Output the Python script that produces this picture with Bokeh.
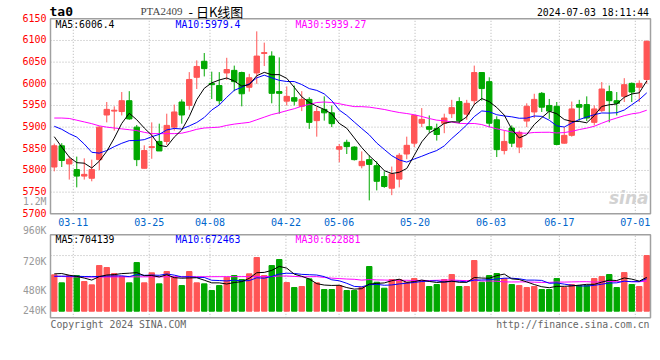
from bokeh.plotting import figure
from bokeh.models import Range1d, Label, ColumnDataSource
from bokeh.core.properties import value
from bokeh.embed import file_html
from bokeh.resources import INLINE

# ---------------- data ----------------
dates = ["03-06", "03-07", "03-08", "03-11", "03-12", "03-13", "03-14", "03-15", "03-18", "03-19",
         "03-20", "03-21", "03-22", "03-25", "03-26", "03-27", "03-28", "03-29", "04-01", "04-02",
         "04-03", "04-08", "04-09", "04-10", "04-11", "04-12", "04-15", "04-16", "04-17", "04-18",
         "04-19", "04-22", "04-23", "04-24", "04-25", "04-26", "04-29", "04-30", "05-06", "05-07",
         "05-08", "05-09", "05-10", "05-13", "05-14", "05-15", "05-16", "05-17", "05-20", "05-21",
         "05-22", "05-23", "05-24", "05-27", "05-28", "05-29", "05-30", "05-31", "06-03", "06-04",
         "06-05", "06-06", "06-07", "06-11", "06-12", "06-13", "06-14", "06-17", "06-18", "06-19",
         "06-20", "06-21", "06-24", "06-25", "06-26", "06-27", "06-28", "07-01", "07-02", "07-03"]

opens = [5808, 5857, 5815, 5802, 5787, 5782, 5825, 5928, 5937, 5936,
         5961, 5900, 5805, 5853, 5867, 5867, 5900, 5958, 5950, 6015,
         6052, 6001, 5996, 6025, 6031, 6026, 5992, 6025, 6070, 6064,
         5982, 5960, 5968, 5948, 5964, 5915, 5941, 5933, 5849, 5865,
         5854, 5811, 5825, 5811, 5786, 5759, 5780, 5838, 5863, 5909,
         5901, 5897, 5909, 5931, 5959, 5930, 5961, 6026, 6005, 5917,
         5846, 5898, 5854, 5914, 5935, 5978, 5950, 5948, 5863, 5881,
         5952, 5952, 5911, 5938, 5982, 5961, 5971, 6001, 5992, 6010]

highs = [5862, 5863, 5832, 5832, 5828, 5825, 5902, 5958, 5948, 5981,
         5983, 5905, 5858, 5911, 5908, 5931, 5952, 5964, 6027, 6054,
         6071, 6028, 6027, 6060, 6042, 6028, 6023, 6121, 6095, 6075,
         6061, 5994, 5996, 5983, 5969, 5946, 5971, 5950, 5861, 5871,
         5856, 5844, 5835, 5821, 5798, 5809, 5840, 5878, 5928, 5944,
         5927, 5908, 5931, 5963, 5969, 5963, 6042, 6027, 6015, 5925,
         5892, 5904, 5892, 5955, 5977, 5981, 5965, 5958, 5900, 5959,
         5963, 5971, 5950, 6004, 5996, 5981, 6013, 6003, 6008, 6100]

lows = [5798, 5808, 5779, 5761, 5779, 5775, 5801, 5911, 5892, 5927,
        5917, 5810, 5805, 5827, 5845, 5859, 5892, 5908, 5940, 5988,
        6017, 5965, 5952, 6009, 5983, 5948, 5982, 6000, 6041, 5955,
        5931, 5950, 5950, 5937, 5896, 5878, 5915, 5900, 5819, 5838,
        5823, 5805, 5731, 5754, 5760, 5743, 5761, 5826, 5854, 5900,
        5887, 5869, 5886, 5921, 5908, 5917, 5951, 5961, 5900, 5831,
        5837, 5854, 5840, 5900, 5921, 5935, 5919, 5858, 5862, 5878,
        5915, 5914, 5904, 5935, 5911, 5927, 5958, 5958, 5958, 6000]

closes = [5857, 5823, 5826, 5787, 5791, 5802, 5900, 5941, 5939, 5961,
          5919, 5825, 5846, 5855, 5845, 5904, 5935, 5928, 6010, 6040,
          6035, 5998, 5961, 6033, 6005, 5977, 6014, 6064, 6072, 5978,
          5978, 5971, 5960, 5964, 5911, 5936, 5933, 5908, 5855, 5855,
          5825, 5821, 5814, 5775, 5763, 5792, 5835, 5858, 5927, 5918,
          5895, 5883, 5921, 5945, 5915, 5955, 6026, 5989, 5909, 5848,
          5867, 5863, 5888, 5948, 5964, 5946, 5937, 5860, 5881, 5942,
          5946, 5921, 5942, 5988, 5961, 5955, 5998, 5981, 6001, 6098]

volumes = [752000, 587000, 738000, 738000, 614000, 545000, 945000, 904000, 780000, 718000,
           587000, 1007000, 587000, 794000, 566000, 821000, 704000, 531000, 821000, 587000,
           566000, 428000, 531000, 704000, 738000, 656000, 773000, 1111000, 738000, 945000,
           1070000, 593000, 490000, 511000, 669000, 587000, 449000, 449000, 531000, 428000,
           428000, 497000, 925000, 600000, 476000, 656000, 656000, 600000, 676000, 635000,
           511000, 552000, 656000, 759000, 511000, 511000, 1049000, 600000, 738000, 780000,
           676000, 552000, 531000, 490000, 511000, 449000, 449000, 676000, 490000, 552000,
           531000, 531000, 676000, 718000, 759000, 490000, 800000, 552000, 511000, 1152000]

ma5_lead = [5878, 5854, 5831, 5818]
ma10_lead = [5902, 5895, 5885, 5877, 5861, 5842, 5840, 5846, 5855]
ma30_lead = [5921, 5921, 5920, 5916, 5912, 5908, 5903, 5900, 5898, 5896,
             5894, 5892, 5888, 5885, 5885, 5885, 5885, 5886, 5890, 5895,
             5898, 5899, 5900, 5904, 5907, 5909, 5911, 5917, 5923]
vma5_lead = [773000, 780000, 745000, 720000]
vma10_lead = [722000, 725000, 725000, 722000, 718000, 715000, 720000, 728000, 730000]
vma30_lead = [724000, 718000, 712000, 710000, 709000, 708000, 708000, 708000, 709000, 710000,
              710000, 711000, 711000, 712000, 712000, 712000, 713000, 713000, 713000, 714000,
              714000, 714000, 715000, 715000, 715000, 716000, 716000, 716000, 717000]

date_labels = ["03-11", "03-25", "04-08", "04-22", "05-06", "05-20", "06-03", "06-17", "07-01"]
price_ticks = [5700, 5750, 5800, 5850, 5900, 5950, 6000, 6050, 6100, 6150]
vol_labels = ["1.2M", "960K", "720K", "480K", "240K"]

title_code = "ta0"
title_name = "PTA2409"
title_rest = "- 日K线图"
timestamp = "2024-07-03 18:11:44"
price_ma_text = ["MA5:6006.4", "MA10:5979.4", "MA30:5939.27"]
vol_ma_text = ["MA5:704139", "MA10:672463", "MA30:622881"]
copyright_text = "Copyright 2024 SINA.COM"
url_text = "http://finance.sina.com.cn"

# ---------------- layout constants (pixels) ----------------
W, H = 660, 360
PANEL_L, PANEL_R = 50, 650          # both panels, left/right edges
PRICE_TOP, PRICE_BOT = 18.3, 213.3  # price panel edges
VOL_TOP, VOL_BOT = 234.3, 317.3     # volume panel edges
VOL_BASE = 310.7                    # zero-volume line
VOL_PER_PX = 20700.0

MONO = "DejaVu Sans Mono"
GRID = "#b4b4b4"
FRAME = "#a0a0a0"
RED = "#ff5555"
GREEN = "#00a800"

# ---------------- derived ----------------
def moving_average(vals, n, lead):
    out = list(lead)
    for i in range(len(lead), len(vals)):
        out.append(sum(vals[i - n + 1:i + 1]) / n)
    return out

N = len(dates)
slot = (PANEL_R - PANEL_L) / N
x_lo = -0.5 - PANEL_L / slot
x_hi = N - 0.5 + (W - PANEL_R) / slot
p_per_px = (price_ticks[-1] - price_ticks[0]) / (PRICE_BOT - PRICE_TOP)
y_hi = price_ticks[-1] + PRICE_TOP * p_per_px
y_lo = price_ticks[0] - (H - PRICE_BOT) * p_per_px
v_hi = VOL_BASE * VOL_PER_PX
v_lo = -(H - VOL_BASE) * VOL_PER_PX
vbox_top = (VOL_BASE - VOL_TOP) * VOL_PER_PX
vbox_bot = -(VOL_BOT - VOL_BASE) * VOL_PER_PX

xs = list(range(N))
colors = [RED if c >= o else GREEN for o, c in zip(opens, closes)]

src = ColumnDataSource(dict(
    x=xs, high=highs, low=lows,
    top=[max(o, c) for o, c in zip(opens, closes)],
    bottom=[min(o, c) for o, c in zip(opens, closes)],
    color=colors, vol=volumes,
    ma5=moving_average(closes, 5, ma5_lead),
    ma10=moving_average(closes, 10, ma10_lead),
    ma30=moving_average(closes, 30, ma30_lead),
    vma5=moving_average(volumes, 5, vma5_lead),
    vma10=moving_average(volumes, 10, vma10_lead),
    vma30=moving_average(volumes, 30, vma30_lead),
))

# date grid / label positions (spread over N-1 steps across the panel, as in the original)
tick_pos = [dates.index(d) * N / (N - 1) - 0.5 for d in date_labels]

p = figure(width=W, height=H, x_range=Range1d(x_lo, x_hi), y_range=Range1d(y_lo, y_hi),
           output_backend="svg", toolbar_location=None,
           x_axis_location=None, y_axis_location=None,
           min_border_left=0, min_border_right=0, min_border_top=0, min_border_bottom=0)
p.extra_y_ranges = {"vol": Range1d(v_lo, v_hi)}
p.outline_line_color = None
p.background_fill_color = "white"
p.border_fill_color = "white"
p.xgrid.visible = False
p.ygrid.visible = False

left_edge, right_edge = -0.5, N - 0.5

# ---- grids ----
inner_ticks = price_ticks[1:-1]
p.segment(x0=[left_edge] * len(inner_ticks), x1=[right_edge] * len(inner_ticks),
          y0=inner_ticks, y1=inner_ticks, line_color=GRID, line_dash="1 2", line_width=1)
p.segment(x0=tick_pos, x1=tick_pos, y0=[price_ticks[0]] * len(tick_pos),
          y1=[price_ticks[-1]] * len(tick_pos), line_color=GRID, line_dash="1 2", line_width=1)
quarter = (vbox_top - vbox_bot) / 4
vgrid = [vbox_bot + quarter * k for k in (1, 2, 3)]
p.segment(x0=[left_edge] * 3, x1=[right_edge] * 3, y0=vgrid, y1=vgrid, y_range_name="vol",
          line_color=GRID, line_dash="1 2", line_width=1)
p.segment(x0=tick_pos, x1=tick_pos, y0=[vbox_bot] * len(tick_pos), y1=[vbox_top] * len(tick_pos),
          y_range_name="vol", line_color=GRID, line_dash="1 2", line_width=1)

# ---- candles ----
p.segment(x0="x", y0="low", x1="x", y1="high", color="color", line_width=1, source=src)
p.vbar(x="x", width=0.72, top="top", bottom="bottom", fill_color="color",
       line_color="color", line_width=1, source=src)
p.line(x="x", y="ma30", color="#ff00ff", line_width=1, source=src)
p.line(x="x", y="ma10", color="#0000ff", line_width=1, source=src)
p.line(x="x", y="ma5", color="#000000", line_width=1, source=src)

# ---- volume ----
p.vbar(x="x", width=0.72, top="vol", bottom=0, fill_color="color", line_color="color",
       line_width=1, source=src, y_range_name="vol")
p.line(x="x", y="vma30", color="#ff00ff", line_width=1, source=src, y_range_name="vol")
p.line(x="x", y="vma10", color="#0000ff", line_width=1, source=src, y_range_name="vol")
p.line(x="x", y="vma5", color="#000000", line_width=1, source=src, y_range_name="vol")

# ---- panel frames ----
p.quad(left=[left_edge], right=[right_edge], bottom=[price_ticks[0]], top=[price_ticks[-1]],
       fill_color=None, line_color=FRAME, line_width=1.5)
p.quad(left=[left_edge], right=[right_edge], bottom=[vbox_bot], top=[vbox_top],
       fill_color=None, line_color=FRAME, line_width=1.5, y_range_name="vol")

# ---- axis labels ----
p.text(x=[left_edge] * len(price_ticks), y=price_ticks, text=[str(t) for t in price_ticks],
       x_offset=-4, y_offset=-1, text_align="right", text_baseline="middle", text_color="#ff0000",
       text_font=value(MONO), text_font_size="10px")
p.text(x=tick_pos, y=[price_ticks[0]] * len(tick_pos), text=date_labels, y_offset=8,
       text_align="center", text_baseline="middle", text_color="#0066cc",
       text_font=value(MONO), text_font_size="10px")


def add_text(text, x, y, color, size="9.8px", align="left", font=MONO, style="normal"):
    # x, y in page pixels from the top-left corner
    p.add_layout(Label(x=x, y=H - y, x_units="screen", y_units="screen", text=text,
                       text_color=color, text_font_size=size, text_align=align,
                       text_baseline="middle", text_font=font, text_font_style=style))


add_text(title_code, 49, 11, "#000000", size="13px", style="bold")
add_text(title_name, 140, 10.5, "#444444", size="11px", font="Liberation Serif")
add_text(title_rest, 188, 10.5, "#000000", size="13px", font="Noto Sans CJK SC")
add_text(timestamp, 648.5, 11.7, "#000000", align="right")
add_text(price_ma_text[0], 55, 23.7, "#000000")
add_text(price_ma_text[1], 175, 23.7, "#0000ff")
add_text(price_ma_text[2], 295, 23.7, "#ff00ff")
for lab, yy in zip(vol_labels, [200.8, 230, 261, 290, 310]):
    add_text(lab, 46, yy, "#999999", align="right")
add_text(vol_ma_text[0], 55, 238.7, "#000000")
add_text(vol_ma_text[1], 175, 238.7, "#0000ff")
add_text(vol_ma_text[2], 295, 238.7, "#ff00ff")
add_text(copyright_text, 50, 323.5, "#666666")
add_text(url_text, 649, 324, "#666666", align="right")
add_text("sina", 648, 197, "#d2d2d2", size="17px", align="right", font="DejaVu Sans",
         style="bold italic")

open("out.html", "w").write(file_html(p, INLINE))
